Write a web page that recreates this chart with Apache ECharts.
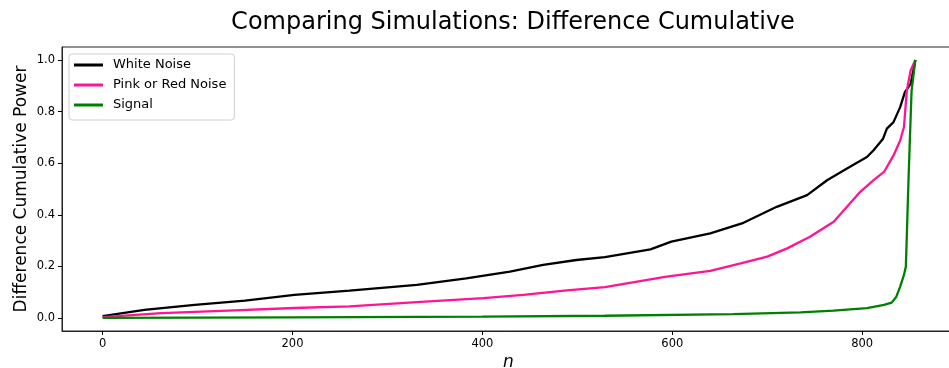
<!DOCTYPE html>
<html>
<head>
<meta charset="utf-8">
<script src="https://cdn.jsdelivr.net/npm/echarts@6/dist/echarts.min.js"></script>
<style>
  html, body { margin: 0; padding: 0; background: #fff; }
  #chart { width: 949px; height: 368px; }
</style>
</head>
<body>
<div id="chart"></div>
<script>
// values
const whiteN = [0, 44, 97, 150, 202, 260, 331, 383, 429, 464, 499, 529, 577, 599, 640, 675, 710, 742, 763, 784, 805, 812, 822, 826, 833, 840, 845, 851, 856]
const whiteV = [0.008, 0.032, 0.051, 0.068, 0.090, 0.106, 0.129, 0.154, 0.180, 0.206, 0.225, 0.236, 0.266, 0.296, 0.328, 0.369, 0.431, 0.476, 0.534, 0.579, 0.624, 0.650, 0.695, 0.734, 0.759, 0.817, 0.875, 0.907, 1.0]

const pinkN = [0, 62, 132, 202, 260, 331, 401, 443, 489, 529, 594, 640, 672, 700, 721, 745, 770, 784, 798, 812, 823, 833, 840, 844, 847, 851, 856]
const pinkV = [0.004, 0.019, 0.029, 0.039, 0.045, 0.062, 0.077, 0.090, 0.107, 0.120, 0.161, 0.183, 0.212, 0.238, 0.270, 0.315, 0.373, 0.431, 0.489, 0.534, 0.566, 0.630, 0.688, 0.740, 0.881, 0.959, 1.0]

const signalN = [0, 200, 400, 529, 664, 735, 770, 805, 823, 831, 836, 840, 844, 846, 849, 852, 856]
const signalV = [0.001, 0.003, 0.006, 0.009, 0.015, 0.022, 0.029, 0.039, 0.051, 0.060, 0.083, 0.122, 0.167, 0.200, 0.560, 0.880, 1.0]

const xTicks = [0, 200, 400, 600, 800]
const yTicks = [0, 0.2, 0.4, 0.6, 0.8, 1.0]

const FONT = 'DejaVu Sans'

const zip = (xs, ys) => xs.map((x, i) => [x, ys[i]])

const chart = echarts.init(document.getElementById('chart'), null, { renderer: 'canvas' })

function lineSeries(name, color, xs, ys) {
  return {
    name,
    type: 'line',
    data: zip(xs, ys),
    showSymbol: false,
    symbol: 'none',
    lineStyle: { color, width: 2.3 },
    itemStyle: { color },
    animation: false
  }
}

chart.setOption({
  animation: false,
  backgroundColor: '#fff',
  textStyle: { fontFamily: FONT },
  title: {
    text: 'Comparing Simulations: Difference Cumulative',
    left: 508,
    textAlign: 'center',
    top: 6,
    textStyle: { fontFamily: FONT, fontSize: 24, fontWeight: 'normal', color: '#000' }
  },
  legend: {
    orient: 'vertical',
    left: 69,
    top: 54,
    icon: 'rect',
    itemWidth: 29,
    itemHeight: 3,
    itemGap: 4,
    padding: [3, 8, 7, 5],
    borderColor: '#d0d0d0',
    borderWidth: 1,
    borderRadius: 3,
    backgroundColor: 'rgba(255,255,255,0.8)',
    textStyle: { fontFamily: FONT, fontSize: 13, color: '#000', lineHeight: 16, padding: [0, 0, 0, 5] },
    data: ['White Noise', 'Pink or Red Noise', 'Signal']
  },
  grid: {
    left: 62,
    right: -6,
    top: 47,
    bottom: 37,
    containLabel: false,
    outerBoundsMode: 'none',
    show: true,
    borderColor: '#222',
    borderWidth: 1
  },
  xAxis: {
    type: 'value',
    min: -42.75,
    max: 897.75,
    name: 'n',
    nameLocation: 'middle',
    nameGap: 23,
    nameMoveOverlap: false,
    nameTextStyle: { fontFamily: FONT, fontSize: 17, fontStyle: 'italic', color: '#000' },
    axisLine: { show: true, onZero: false, lineStyle: { color: '#222', width: 1 } },
    axisTick: { show: true, length: 4, customValues: xTicks, lineStyle: { color: '#000' } },
    axisLabel: { customValues: xTicks, margin: 7, fontFamily: FONT, fontSize: 11.5, color: '#000' },
    splitLine: { show: false }
  },
  yAxis: {
    type: 'value',
    min: -0.05,
    max: 1.05,
    name: 'Difference Cumulative Power',
    nameLocation: 'middle',
    nameGap: 32,
    nameMoveOverlap: false,
    nameTextStyle: { fontFamily: FONT, fontSize: 17, color: '#000' },
    axisLine: { show: true, onZero: false, lineStyle: { color: '#222', width: 1 } },
    axisTick: { show: true, length: 4, customValues: yTicks, lineStyle: { color: '#000' } },
    axisLabel: {
      customValues: yTicks,
      margin: 7,
      fontFamily: FONT,
      fontSize: 11.5,
      color: '#000',
      formatter: (v) => Number(v).toFixed(1)
    },
    splitLine: { show: false }
  },
  series: [
    lineSeries('White Noise', '#000000', whiteN, whiteV),
    lineSeries('Pink or Red Noise', '#ff1493', pinkN, pinkV),
    lineSeries('Signal', '#008000', signalN, signalV)
  ]
})
</script>
</body>
</html>
